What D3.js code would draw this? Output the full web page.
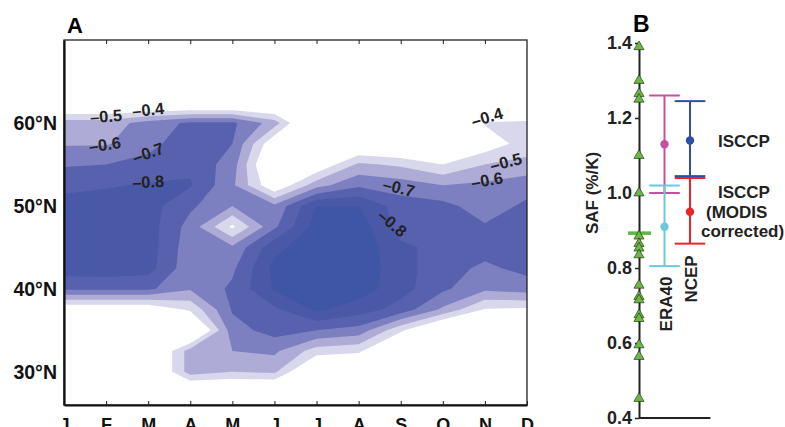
<!DOCTYPE html>
<html lang="en">
<head>
<meta charset="UTF-8">
<title>SAF</title>
<script src="https://cdn.jsdelivr.net/npm/d3@7/dist/d3.min.js"></script>
<style>
  body { margin: 0; background: #fff; }
  svg text { font-family: "Liberation Sans", Arial, sans-serif; }
</style>
</head>
<body>
<script>
// ---- panel A data: SAF (%/K) by month and latitude ----
var months = ['J', 'F', 'M', 'A', 'M', 'J', 'J', 'A', 'S', 'O', 'N', 'D'];
var lats = [70, 67.5, 65, 62.5, 60, 57.5, 55, 52.5, 50, 47.5, 45, 42.5, 40, 37.5, 35, 32.5, 30, 27.5, 25];
var latTicks = [30, 40, 50, 60];
var safGrid = [
  [-0.1, -0.1, -0.1, -0.1, -0.1, -0.1, -0.1, -0.1, -0.1, -0.1, -0.1, -0.1],
  [-0.1, -0.1, -0.1, -0.1, -0.1, -0.1, -0.1, -0.1, -0.1, -0.1, -0.1, -0.1],
  [-0.1, -0.1, -0.1, -0.1, -0.1, -0.1, -0.1, -0.1, -0.1, -0.1, -0.1, -0.1],
  [-0.2, -0.2, -0.2, -0.2, -0.2, -0.2, -0.1, -0.1, -0.1, -0.1, -0.2, -0.2],
  [-0.55, -0.55, -0.64, -0.72, -0.72, -0.55, -0.15, -0.15, -0.15, -0.12, -0.41, -0.42],
  [-0.59, -0.59, -0.67, -0.76, -0.70, -0.30, -0.20, -0.25, -0.22, -0.18, -0.33, -0.45],
  [-0.69, -0.70, -0.73, -0.78, -0.65, -0.20, -0.30, -0.52, -0.48, -0.40, -0.50, -0.53],
  [-0.77, -0.79, -0.81, -0.81, -0.62, -0.30, -0.56, -0.68, -0.65, -0.60, -0.62, -0.66],
  [-0.84, -0.85, -0.84, -0.72, -0.60, -0.62, -0.90, -0.90, -0.75, -0.73, -0.65, -0.72],
  [-0.86, -0.87, -0.85, -0.66, -0.38, -0.68, -0.95, -0.96, -0.76, -0.76, -0.71, -0.74],
  [-0.86, -0.87, -0.85, -0.64, -0.62, -0.87, -0.97, -0.97, -0.82, -0.77, -0.74, -0.75],
  [-0.85, -0.86, -0.84, -0.63, -0.68, -0.93, -0.97, -0.97, -0.84, -0.74, -0.68, -0.73],
  [-0.72, -0.72, -0.72, -0.61, -0.72, -0.91, -0.96, -0.95, -0.84, -0.72, -0.62, -0.65],
  [-0.30, -0.30, -0.30, -0.42, -0.71, -0.78, -0.92, -0.85, -0.76, -0.58, -0.39, -0.38],
  [-0.2, -0.2, -0.2, -0.15, -0.66, -0.74, -0.70, -0.66, -0.42, -0.2, -0.2, -0.2],
  [-0.2, -0.2, -0.2, -0.55, -0.60, -0.62, -0.45, -0.42, -0.2, -0.2, -0.2, -0.2],
  [-0.2, -0.2, -0.2, -0.55, -0.50, -0.52, -0.2, -0.2, -0.2, -0.2, -0.2, -0.2],
  [-0.2, -0.2, -0.2, -0.2, -0.2, -0.2, -0.2, -0.2, -0.2, -0.2, -0.2, -0.2],
  [-0.2, -0.2, -0.2, -0.2, -0.2, -0.2, -0.2, -0.2, -0.2, -0.2, -0.2, -0.2]
];
var levels = [-0.4, -0.5, -0.6, -0.7, -0.8, -0.9];
// contour labels: text, month index, latitude, rotation
var labelText  = ['–0.5', '–0.4', '–0.6', '–0.7', '–0.8', '–0.7', '–0.8', '–0.4', '–0.5', '–0.6'];
var labelMonth = [1.0, 2.0, 0.97, 2.0, 2.0, 7.95, 7.8, 10.05, 10.5, 10.05];
var labelLat   = [60.8, 61.6, 57.4, 56.4, 52.9, 52.2, 47.9, 60.7, 55.3, 53.1];
var labelAngle = [-4, -6, -8, -20, -3, 14, 40, -16, -14, -10];

// ---- panel B data ----
var modelSAF = [1.39, 1.30, 1.265, 1.25, 1.10, 1.00, 0.885, 0.865, 0.853, 0.835,
                0.754, 0.724, 0.715, 0.675, 0.665, 0.595, 0.564, 0.452];
var obsMeanLine = 0.893;
var barColumn = [1, 1, 2, 2];            // 1 = ERA40, 2 = NCEP
var barMean = [1.13, 0.91, 1.14, 0.95];
var barLow  = [1.00, 0.805, 1.045, 0.865];
var barHigh = [1.26, 1.02, 1.245, 1.04];
var barColor = ['#c4509f', '#6dc8dc', '#2e4fa6', '#ec2428'];
var columnNames = ['ERA40', 'NCEP'];
var bTicks = [0.4, 0.6, 0.8, 1.0, 1.2, 1.4];

var width = 785, height = 427;
var svg = d3.select('body').append('svg')
  .attr('width', width)
  .attr('height', height);

// ================= panel A =================
var A = {left: 64, right: 527, top: 40, bottom: 405};
var xA = d3.scaleLinear().domain([0, 11]).range([A.left, A.right]);
var yA = d3.scaleLinear().domain([26, 70]).range([A.bottom, A.top]);
var rowLat = d3.scaleLinear().domain([0, lats.length - 1]).range([lats[0], lats[lats.length - 1]]);

var fills = ['#d8d7ec', '#aeacd6', '#7d80c0', '#5861ad', '#4a58a8', '#3f55a5'];

svg.append('clipPath').attr('id', 'clipA')
  .append('rect')
  .attr('x', A.left).attr('y', A.top)
  .attr('width', A.right - A.left).attr('height', A.bottom - A.top);

// flatten grid, negate so that "inside" means more negative SAF
var values = [];
safGrid.forEach(function(row) { row.forEach(function(v) { values.push(-v); }); });

var contours = d3.contours()
  .size([months.length, lats.length])
  .thresholds(levels.map(function(l) { return -l; }))(values);

var proj = d3.geoTransform({
  point: function(x, y) {
    this.stream.point(xA(x - 0.5), yA(rowLat(y - 0.5)));
  }
});
var path = d3.geoPath(proj);

svg.append('g').attr('clip-path', 'url(#clipA)')
  .selectAll('path')
  .data(contours)
  .enter().append('path')
  .attr('d', path)
  .attr('fill', function(d, i) { return fills[i]; })
  .attr('stroke', 'none');

// contour labels
svg.append('g').selectAll('text')
  .data(labelText)
  .enter().append('text')
  .attr('transform', function(d, i) {
    return 'translate(' + xA(labelMonth[i]) + ',' + yA(labelLat[i]) + ') rotate(' + labelAngle[i] + ')';
  })
  .attr('text-anchor', 'middle')
  .attr('dy', '0.35em')
  .attr('font-size', 16.5)
  .attr('font-weight', 'bold')
  .attr('fill', '#222')
  .text(function(d) { return d; });

// frame
svg.append('rect')
  .attr('x', A.left).attr('y', A.top)
  .attr('width', A.right - A.left).attr('height', A.bottom - A.top)
  .attr('fill', 'none').attr('stroke', '#222').attr('stroke-width', 1.3);

// top ticks
var topAxis = svg.append('g').attr('transform', 'translate(0,' + A.top + ')')
  .call(d3.axisTop(xA).tickValues(d3.range(1, 11)).tickSizeInner(-4).tickSizeOuter(0).tickFormat(''));
topAxis.select('.domain').remove();
topAxis.selectAll('line').attr('stroke', '#222');

// bottom axis with month letters
var botAxis = svg.append('g').attr('transform', 'translate(0,' + A.bottom + ')')
  .call(d3.axisBottom(xA).tickValues(d3.range(0, 12)).tickSizeInner(-4).tickSizeOuter(0)
    .tickPadding(13).tickFormat(function(d) { return months[d]; }));
botAxis.select('.domain').attr('stroke', '#111').attr('stroke-width', 2.2);
botAxis.selectAll('line').attr('stroke', '#222');
botAxis.selectAll('text')
  .attr('font-family', '"Open Sans", sans-serif')
  .attr('font-weight', 600)
  .attr('font-size', 18)
  .attr('fill', '#111');

// left axis with latitudes
var leftAxis = svg.append('g').attr('transform', 'translate(' + A.left + ',0)')
  .call(d3.axisLeft(yA).tickValues(latTicks).tickSize(0).tickPadding(7)
    .tickFormat(function(d) { return d + '°N'; }));
leftAxis.select('.domain').attr('stroke', '#111').attr('stroke-width', 2.2);
leftAxis.selectAll('text')
  .attr('font-family', '"Open Sans", sans-serif')
  .attr('font-weight', 600)
  .attr('font-size', 19.5)
  .attr('fill', '#111');

svg.append('text')
  .attr('x', 67).attr('y', 33)
  .attr('font-family', '"Open Sans", sans-serif')
  .attr('font-weight', 'bold')
  .attr('font-size', 22)
  .text('A');

// ================= panel B =================
var yB = d3.scaleLinear().domain([0.4, 1.4]).range([418, 43]);
var xB = d3.scaleLinear().domain([0, 2]).range([639, 690]);

var bAxis = svg.append('g').attr('transform', 'translate(' + xB(0) + ',0)')
  .call(d3.axisLeft(yB).tickValues(bTicks).tickSizeInner(4).tickSizeOuter(0).tickPadding(3)
    .tickFormat(d3.format('.1f')));
bAxis.select('.domain').attr('stroke', '#222').attr('stroke-width', 2);
bAxis.selectAll('line').attr('stroke', '#222').attr('stroke-width', 1.5);
bAxis.selectAll('text')
  .attr('font-size', 18)
  .attr('font-weight', 'bold')
  .attr('fill', '#222');

// bottom baseline
svg.append('line')
  .attr('x1', xB(0)).attr('x2', xB(2.8))
  .attr('y1', yB(0.4)).attr('y2', yB(0.4))
  .attr('stroke', '#222').attr('stroke-width', 2);

// observational estimate line
svg.append('line')
  .attr('x1', xB(-0.43)).attr('x2', xB(0.47))
  .attr('y1', yB(obsMeanLine)).attr('y2', yB(obsMeanLine))
  .attr('stroke', '#5cb83c').attr('stroke-width', 3.5);

// model triangles
svg.append('g').selectAll('path')
  .data(modelSAF)
  .enter().append('path')
  .attr('d', d3.symbol(d3.symbolTriangle, 44))
  .attr('transform', function(d) { return 'translate(' + xB(0) + ',' + yB(d) + ')'; })
  .attr('fill', '#6bb846')
  .attr('stroke', '#2a3a1a')
  .attr('stroke-width', 0.7);

// error bars
var bars = svg.append('g').selectAll('g')
  .data(barMean)
  .enter().append('g');
bars.append('line')
  .attr('x1', function(d, i) { return xB(barColumn[i]); })
  .attr('x2', function(d, i) { return xB(barColumn[i]); })
  .attr('y1', function(d, i) { return yB(barLow[i]); })
  .attr('y2', function(d, i) { return yB(barHigh[i]); })
  .attr('stroke', function(d, i) { return barColor[i]; })
  .attr('stroke-width', 2);
[barLow, barHigh].forEach(function(arr) {
  bars.append('line')
    .attr('x1', function(d, i) { return xB(barColumn[i] - 0.6); })
    .attr('x2', function(d, i) { return xB(barColumn[i] + 0.6); })
    .attr('y1', function(d, i) { return yB(arr[i]); })
    .attr('y2', function(d, i) { return yB(arr[i]); })
    .attr('stroke', function(d, i) { return barColor[i]; })
    .attr('stroke-width', 2);
});
bars.append('circle')
  .attr('cx', function(d, i) { return xB(barColumn[i]); })
  .attr('cy', function(d) { return yB(d); })
  .attr('r', 4.2)
  .attr('fill', function(d, i) { return barColor[i]; });

// column names, rotated
svg.append('g').selectAll('text')
  .data(columnNames)
  .enter().append('text')
  .attr('transform', function(d, i) {
    return 'translate(' + (xB(i + 1) + 7) + ',' + (i === 0 ? 304 : 279) + ') rotate(-90)';
  })
  .attr('text-anchor', 'middle')
  .attr('font-size', 17)
  .attr('font-weight', 'bold')
  .attr('fill', '#222')
  .text(function(d) { return d; });

// dataset labels
var dsLabels = svg.append('g')
  .attr('font-size', 17)
  .attr('font-weight', 'bold')
  .attr('fill', '#222');
dsLabels.append('text').attr('x', 718).attr('y', yB(1.14) + 6).text('ISCCP');
dsLabels.append('text').attr('x', 718).attr('y', 198).text('ISCCP');
dsLabels.append('text').attr('x', 706).attr('y', 218).text('(MODIS');
dsLabels.append('text').attr('x', 701).attr('y', 237).text('corrected)');

// y title
svg.append('text')
  .attr('transform', 'translate(598,' + yB(1.0) + ') rotate(-90)')
  .attr('text-anchor', 'middle')
  .attr('font-size', 17)
  .attr('font-weight', 'bold')
  .attr('fill', '#222')
  .text('SAF (%/K)');

svg.append('text')
  .attr('x', 633).attr('y', 32)
  .attr('font-size', 23)
  .attr('font-weight', 'bold')
  .text('B');
</script>
</body>
</html>
